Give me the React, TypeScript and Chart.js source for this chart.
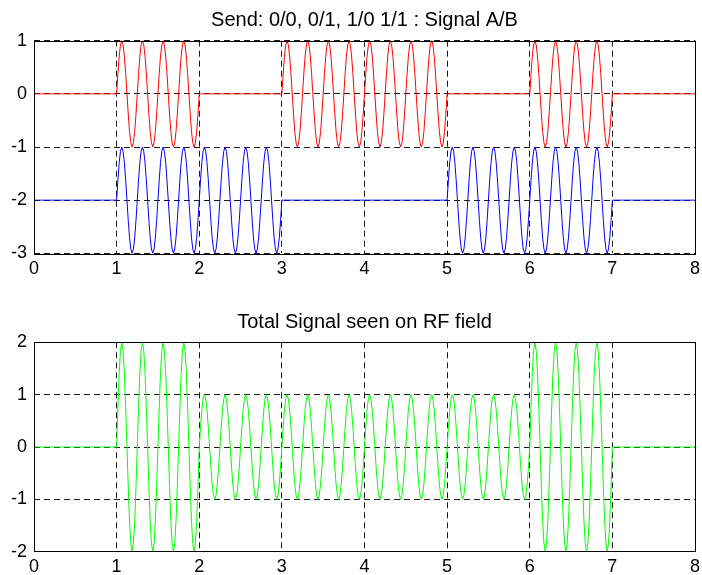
import React, { useEffect, useRef } from "react";
import { Chart, registerables } from "chart.js";

Chart.register(...registerables);

// ---- Data ----
// one bit per 1-second slot (0..8)
const BITS_A = [0, 1, 0, 1, 1, 0, 1, 0];
const BITS_B = [0, 1, 1, 0, 0, 1, 1, 0];
// carrier samples over one cycle (0 .. peak 1 .. trough -1)
const CARRIER_CYCLE = [0, 0.38, 0.71, 0.92, 1, 0.92, 0.71, 0.38, 0, -0.38, -0.71, -0.92, -1, -0.92, -0.71, -0.38];
const CYCLES_PER_SLOT = 4;
const OFFSET_A = 0;
const OFFSET_B = -2;

const X_TICKS = [0, 1, 2, 3, 4, 5, 6, 7, 8];
const Y_TICKS_TOP = [1, 0, -1, -2, -3];
const Y_TICKS_BOTTOM = [2, 1, 0, -1, -2];

const TITLE_TOP = "Send: 0/0, 0/1, 1/0 1/1 : Signal A/B";
const TITLE_BOTTOM = "Total Signal seen on RF field";

// build sampled signals from the bit slots and the carrier cycle
function buildSignal(bits: number[], offset: number) {
  const per = CARRIER_CYCLE.length * CYCLES_PER_SLOT;
  const pts: { x: number; y: number }[] = [];
  for (let s = 0; s < bits.length; s++) {
    for (let k = 0; k < per; k++) {
      const v = bits[s] ? CARRIER_CYCLE[k % CARRIER_CYCLE.length] : 0;
      pts.push({ x: s + k / per, y: v + offset });
    }
  }
  pts.push({ x: bits.length, y: offset });
  return pts;
}

const SIG_A = buildSignal(BITS_A, OFFSET_A);
const SIG_B = buildSignal(BITS_B, OFFSET_B);
const SIG_A0 = buildSignal(BITS_A, 0);
const SIG_B0 = buildSignal(BITS_B, 0);
const SIG_TOTAL = SIG_A0.map((p, i) => ({ x: p.x, y: p.y + SIG_B0[i].y }));

const FONT = '"Liberation Sans", Arial, Helvetica, sans-serif';

function makeOptions(
  yTicks: number[],
  title: string,
  padTop: number,
  xHeight: number,
  titleBaseline: number
) {
  const frame = {
    id: "frame_" + title.length,
    afterDatasetsDraw(chart: any) {
      const { ctx, chartArea: a } = chart;
      ctx.save();
      ctx.strokeStyle = "#000";
      ctx.lineWidth = 1;
      ctx.setLineDash([]);
      ctx.strokeRect(Math.round(a.left) + 0.5, Math.round(a.top) + 0.5, Math.round(a.right - a.left), Math.round(a.bottom - a.top));
      ctx.restore();
    },
    afterDraw(chart: any) {
      const { ctx, chartArea: a } = chart;
      ctx.save();
      ctx.fillStyle = "#000";
      ctx.font = "20px " + FONT;
      ctx.textAlign = "center";
      ctx.textBaseline = "alphabetic";
      ctx.fillText(title, (a.left + a.right) / 2, titleBaseline);
      ctx.restore();
    },
  };
  return {
    plugin: frame,
    options: {
      responsive: false,
      animation: false as const,
      devicePixelRatio: 1,
      layout: { padding: { top: padTop, right: 7, left: 0, bottom: 0 } },
      plugins: { legend: { display: false }, tooltip: { enabled: false }, title: { display: false } },
      elements: { point: { radius: 0 }, line: { tension: 0, borderWidth: 1 } },
      scales: {
        x: {
          type: "linear" as const,
          min: X_TICKS[0],
          max: X_TICKS[X_TICKS.length - 1],
          afterBuildTicks: (s: any) => {
            s.ticks = X_TICKS.map((v) => ({ value: v }));
          },
          afterFit: (s: any) => {
            s.height = xHeight;
            s.paddingLeft = 0;
            s.paddingRight = 0;
          },
          ticks: { color: "#000", font: { family: FONT, size: 18 }, padding: 5, maxRotation: 0, autoSkip: false },
          grid: { color: "#1a1a1a", lineWidth: 1, drawTicks: false },
          border: { display: false, dash: [6, 4] },
        },
        y: {
          type: "linear" as const,
          min: yTicks[yTicks.length - 1],
          max: yTicks[0],
          afterBuildTicks: (s: any) => {
            s.ticks = yTicks.slice().reverse().map((v) => ({ value: v }));
          },
          afterFit: (s: any) => {
            s.width = 34;
            s.paddingTop = 0;
            s.paddingBottom = 0;
          },
          ticks: { color: "#000", font: { family: FONT, size: 18 }, padding: 7, autoSkip: false },
          grid: { color: "#1a1a1a", lineWidth: 1, drawTicks: false },
          border: { display: false, dash: [6, 4] },
        },
      },
    },
  };
}

function Plot(props: {
  top: number;
  height: number;
  datasets: { data: { x: number; y: number }[]; color: string }[];
  yTicks: number[];
  title: string;
  padTop: number;
  xHeight: number;
  titleBaseline: number;
}) {
  const ref = useRef<HTMLCanvasElement | null>(null);
  useEffect(() => {
    if (!ref.current) return;
    const { plugin, options } = makeOptions(props.yTicks, props.title, props.padTop, props.xHeight, props.titleBaseline);
    const chart = new Chart(ref.current, {
      type: "line",
      data: {
        datasets: props.datasets.map((d) => ({
          data: d.data,
          borderColor: d.color,
          backgroundColor: d.color,
          borderWidth: 1,
          pointRadius: 0,
          fill: false,
          clip: 4,
        })),
      },
      options: options as any,
      plugins: [plugin],
    });
    return () => chart.destroy();
  }, []);
  return (
    <canvas
      ref={ref}
      width={702}
      height={props.height}
      style={{ position: "absolute", left: 0, top: props.top, width: 702, height: props.height }}
    />
  );
}

export default function App() {
  return (
    <div style={{ position: "absolute", left: 0, top: 0, width: 702, height: 575, background: "#fff" }}>
      <Plot
        top={0}
        height={290}
        datasets={[
          { data: SIG_A, color: "#ff0000" },
          { data: SIG_B, color: "#0000ff" },
        ]}
        yTicks={Y_TICKS_TOP}
        title={TITLE_TOP}
        padTop={40.7}
        xHeight={290 - 253.3}
        titleBaseline={25.5}
      />
      <Plot
        top={290}
        height={285}
        datasets={[{ data: SIG_TOTAL, color: "#00ff00" }]}
        yTicks={Y_TICKS_BOTTOM}
        title={TITLE_BOTTOM}
        padTop={52.3}
        xHeight={285 - 261.7}
        titleBaseline={38.3}
      />
    </div>
  );
}
